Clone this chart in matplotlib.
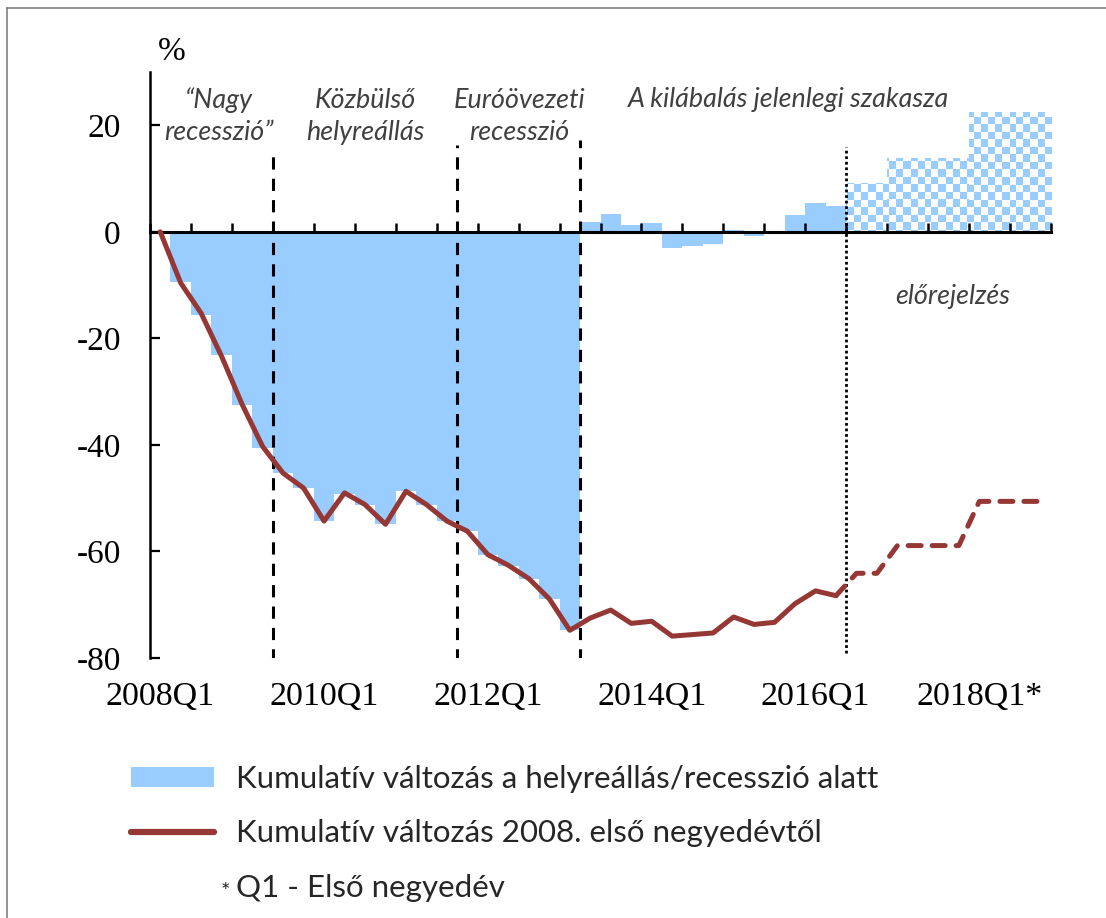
import numpy as np
import matplotlib
matplotlib.use("Agg")
import matplotlib.pyplot as plt
from matplotlib.lines import Line2D
from matplotlib.patches import Patch
from matplotlib.colors import ListedColormap

plt.rcParams['font.family'] = ['Liberation Serif', 'DejaVu Serif']
plt.rcParams['axes.unicode_minus'] = False

# quarters 2008Q1 .. 2018Q4
quarters = [f"{y}Q{q}" for y in range(2008, 2019) for q in range(1, 5)]

# cumulative change since 2008Q1 (line), %
cum_change = [0.0, -9.6, -15.3, -23.4, -32.4, -40.3, -45.3, -48.1,
              -54.3, -49.0, -51.2, -54.9, -48.7, -51.2, -54.3, -56.2,
              -60.6, -62.6, -65.1, -68.9, -74.8, -72.5, -71.0, -73.5,
              -73.1, -75.9, -75.6, -75.3, -72.3, -73.7, -73.3, -69.8,
              -67.4, -68.3, -64.1, -64.1, -58.9, -58.9, -58.9, -58.9,
              -50.6, -50.6, -50.6, -50.6]

# cumulative change during the recovery / recession phase (bars), %
phase_change = [0.0, -9.5, -15.6, -23.1, -32.5, -40.5, -45.3, -48.1,
                -54.3, -49.3, -51.3, -54.9, -48.7, -51.2, -54.3, -56.2,
                -60.6, -62.7, -65.2, -68.9, -74.8, 1.9, 3.3, 1.2,
                1.6, -3.0, -2.6, -2.3, 0.4, -0.8, 0.0, 3.1,
                5.5, 4.9, 9.1, 9.1, 13.9, 13.9, 13.9, 13.9,
                22.4, 22.4, 22.4, 22.4]

last_actual = "2016Q2"
phase_ends = ["2009Q2", "2011Q3", "2013Q1"]
label_quarters = ["2008Q1", "2010Q1", "2012Q1", "2014Q1", "2016Q1", "2018Q1"]
tick_labels = ["2008Q1", "2010Q1", "2012Q1", "2014Q1", "2016Q1", "2018Q1*"]
phase_names = ["\u201cNagy\nrecesszió\u201d", "Közbülső\nhelyreállás",
               "Euróövezeti\nrecesszió", "A kilábalás jelenlegi szakasza"]
legend_labels = ["Kumulatív változás a helyreállás/recesszió alatt",
                 "Kumulatív változás 2008. első negyedévtől",
                 "Q1 - Első negyedév"]

blue = '#99CCFF'
red = '#953735'

fig = plt.figure(figsize=(11.06, 9.18), dpi=100)
ax = fig.add_axes([150 / 1106, 260 / 918, 901 / 1106, 586 / 918])

x = np.arange(len(quarters))
n_act = quarters.index(last_actual) + 1
ylim = (-80, 30)
xlim = (-0.5, len(quarters) - 0.5)

# actual bars
ax.bar(x[:n_act], phase_change[:n_act], width=1.0, color=blue, linewidth=0, zorder=1)
# forecast bars with checker pattern
fc = ax.bar(x[n_act:], phase_change[n_act:], width=1.0, color='none', linewidth=0, zorder=1)
checker = np.indices((78, 128)).sum(axis=0) % 2
cmap = ListedColormap(['white', blue])
for p in fc.patches:
    im = ax.imshow(checker, cmap=cmap, extent=(*xlim, *ylim), aspect='auto',
                   interpolation='nearest', zorder=1)
    im.set_clip_path(p)

# line: actual solid, forecast dashed
ax.plot(x[:n_act], cum_change[:n_act], color=red, lw=3.6,
        solid_capstyle='round', solid_joinstyle='round', zorder=4)
ax.plot(x[n_act - 1:], cum_change[n_act - 1:], color=red, lw=3.6,
        ls=(0, (2.6, 2.2)), dash_capstyle='round', zorder=4)

# phase separators
tops = [15.5, 16.3, 17.3]
for q, top in zip(phase_ends, tops):
    ax.vlines(quarters.index(q) + 0.5, -80.5, top, colors='black', lw=2.2,
              linestyles=(0, (4, 3)), zorder=3)
ax.vlines(n_act - 0.5, -79, 16, colors='black', lw=2.0,
          linestyles=(0, (1, 1)), zorder=3)

# phase labels
txt_kw = dict(ha='center', va='center', fontsize=19.4, style='italic',
              family='Lato', weight='normal', color='#404040', linespacing=1.33)
for name, px, py in zip(phase_names, [2.87, 10.0, 17.56, 30.7],
                        [21.7, 21.7, 21.7, 24.8]):
    ax.text(px, py, name, **txt_kw)
ax.text(38.7, -12.2, "előrejelzés", **txt_kw)

ax.set_xlim(xlim)
ax.set_ylim(ylim)

ax.spines['top'].set_visible(False)
ax.spines['right'].set_visible(False)
ax.spines['bottom'].set_position(('data', 0))
ax.spines['bottom'].set_linewidth(2.2)
ax.spines['bottom'].set_zorder(3.5)
ax.spines['left'].set_linewidth(1.8)

ax.set_xticks(np.arange(-0.5, len(quarters), 2))
ax.tick_params(axis='x', direction='in', length=6.5, width=1.8, labelbottom=False)
ax.set_yticks([-80, -60, -40, -20, 0, 20])
ax.tick_params(axis='y', direction='in', length=7, width=1.6, pad=21, labelsize=24)

sec = ax.secondary_xaxis('bottom')
sec.set_xticks([quarters.index(q) for q in label_quarters], labels=tick_labels)
sec.tick_params(length=0, pad=17, labelsize=24.5)
sec.spines['bottom'].set_visible(False)

fig.text(172 / 1106, 1 - 52 / 918, '%', ha='center', va='center', fontsize=24)

# legend
handles = [Patch(facecolor=blue, edgecolor='none'),
           Line2D([], [], color=red, lw=4.5, solid_capstyle='round'),
           Line2D([], [], alpha=0)]
fig.legend(handles, legend_labels, loc='upper left',
           bbox_to_anchor=(131 / 1106, 1 - 765 / 918), frameon=False,
           prop={'family': 'Lato', 'size': 22.5}, labelcolor='#262626',
           handlelength=2.65, handleheight=0.64, handletextpad=0.7,
           labelspacing=0.84, borderpad=0, borderaxespad=0)
fig.text(225 / 1106, 1 - 892 / 918, '*', ha='center', va='center',
         fontsize=16, family='Lato', color='#262626')

# outer frame
fig.add_artist(Line2D([7 / 1106, 1], [1 - 8 / 918] * 2, transform=fig.transFigure,
                      color='#808080', lw=1.2))
fig.add_artist(Line2D([7 / 1106] * 2, [0, 1 - 8 / 918], transform=fig.transFigure,
                      color='#808080', lw=1.2))

fig.savefig('out.png', dpi=100)
